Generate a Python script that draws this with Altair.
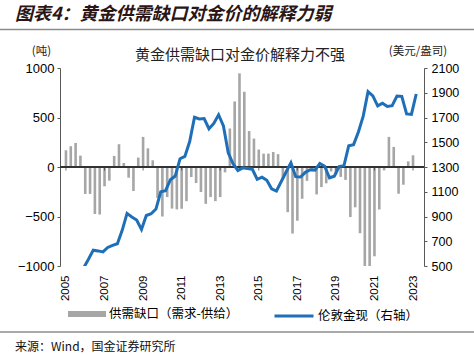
import altair as alt
import pandas as pd

# ---------------- data ----------------
# Quarterly supply-demand gap (tonnes), 2005Q1 .. 2023Q1
gap_values = [169, 210, 243, 115, -272, -272, -475, -480, -195, -138,
              112, 230, 40, -108, -243, 95, 304, 189, 68, -312,
              -500, -304, -420, -428, -422, -345, -101, -162, -253, -372,
              -304, -345, -304, -54, 389, 662, 946, 760, 363, 287,
              176, 135, 135, 152, 130, -118, -456, -672, -543, -321,
              -140, -20, -277, -203, -165, -45, -80, -100, -130, -505,
              -407, -669, -1000, -1000, -902, -429, -34, 304, 203, -270,
              -179, 57, 118]
gap_quarters = [f"{y}Q{q}" for y in range(2005, 2024) for q in range(1, 5)][:len(gap_values)]

# London gold spot, quarterly average (USD/oz), 2005Q4 .. 2023Q1
gold_values = [485,
               554, 628, 622, 614,
               650, 667, 680, 788,
               925, 896, 872, 795,
               908, 922, 960, 1100,
               1109, 1197, 1227, 1367,
               1386, 1506, 1702, 1688,
               1691, 1609, 1652, 1722,
               1632, 1415, 1326, 1272,
               1293, 1288, 1282, 1201,
               1218, 1192, 1124, 1106,
               1183, 1260, 1335, 1222,
               1219, 1257, 1278, 1275,
               1329, 1306, 1213, 1226,
               1304, 1310, 1472, 1481,
               1583, 1711, 1909, 1874,
               1794, 1816, 1789, 1795,
               1874, 1871, 1729, 1726,
               1890]
gold_quarters = gap_quarters[3:3 + len(gold_values)]

tick_years = list(range(2005, 2024, 2))
left_ticks = [-1000, -500, 0, 500, 1000]
right_ticks = list(range(500, 2101, 200))

bar_name = "供需缺口（需求-供给）"
line_name = "伦敦金现（右轴）"
main_title = "图表4：黄金供需缺口对金价的解释力弱"
inner_title = "黄金供需缺口对金价解释力不强"
left_unit = "(吨)"
right_unit = "(美元/盎司)"
source_text = "来源：Wind，国金证券研究所"


def pos(q, month_in_q):
    y, n = int(q[:4]), int(q[-1])
    return y + ((n - 1) * 3 + month_in_q) / 12.0


bar_df = pd.DataFrame({
    "t": [pos(q, 0) for q in gap_quarters],
    "gap": gap_values,
    "series": bar_name,
})
line_df = pd.DataFrame({
    "t": [pos(q, 2) for q in gold_quarters],
    "price": gold_values,
    "series": line_name,
})
tick_df = pd.DataFrame({"t": tick_years, "gap": 0})

CJK = "Noto Sans CJK SC"
NUM = "Liberation Sans"
AX = "#595959"

W, H = 364, 198
OX, OY = 60, 68  # plot origin in page pixels

xscale = alt.Scale(domain=[2004.95, 2023.31], nice=False, zero=False)
xaxis = alt.Axis(values=tick_years, format="d", labelAngle=-90, domain=False,
                 ticks=False, grid=False, labelPadding=9, labelFont=NUM,
                 labelFontSize=11.5, labelColor="#000", title=None,
                 labelFlush=False, labelOverlap=False, labelBound=False)

yleft = alt.Scale(domain=[-1000, 1000], nice=False)
yright = alt.Scale(domain=[500, 2100], nice=False, zero=False)

bars = alt.Chart(bar_df).mark_bar(size=2.6).encode(
    x=alt.X("t:Q", scale=xscale, axis=xaxis),
    y=alt.Y("gap:Q", scale=yleft,
            axis=alt.Axis(orient="left", values=left_ticks, format="d", grid=False,
                          domainColor=AX, tickColor=AX, tickSize=3,
                          labelPadding=3, labelFont=NUM, labelFontSize=13,
                          labelColor="#000", title=None)),
    color=alt.Color("series:N", scale=alt.Scale(range=["#A6A6A6"]),
                    legend=alt.Legend(orient="none", legendX=8, legendY=227,
                                      title=None, padding=0,
                                      symbolType="M-1,-0.16H1V0.16H-1Z",
                                      symbolSize=1444, symbolStrokeWidth=0,
                                      symbolOpacity=1, labelOffset=3,
                                      labelFont=CJK, labelFontSize=12.5,
                                      labelColor="#000")),
)

zero_rule = alt.Chart(tick_df).mark_rule(color="#333", strokeWidth=1).encode(
    y=alt.datum(0)
)
zero_ticks = alt.Chart(tick_df).mark_tick(orient="vertical", size=4, thickness=1,
                                          color="#333", yOffset=1.5).encode(
    x=alt.X("t:Q", scale=xscale), y=alt.Y("gap:Q", scale=yleft)
)

left_group = alt.layer(bars, zero_rule, zero_ticks)

line = alt.Chart(line_df).mark_line(strokeWidth=3, clip=True).encode(
    x=alt.X("t:Q", scale=xscale),
    y=alt.Y("price:Q", scale=yright,
            axis=alt.Axis(orient="right", values=right_ticks, format="d", grid=False,
                          domainColor=AX, tickColor=AX, tickSize=3,
                          labelPadding=4, labelFont=NUM, labelFontSize=12.5,
                          labelColor="#000", title=None)),
    color=alt.Color("series:N", scale=alt.Scale(range=["#1E6FB8"]),
                    legend=alt.Legend(orient="none", legendX=213, legendY=227,
                                      title=None, padding=0, symbolType="stroke",
                                      symbolSize=1521, symbolStrokeWidth=3,
                                      labelOffset=3, labelFont=CJK,
                                      labelFontSize=12.5, labelColor="#000")),
)


def label(txt, x, y, size, align="center", font=CJK, weight="normal",
          style="normal", color="#000"):
    return alt.Chart(pd.DataFrame({"txt": [txt]})).mark_text(
        align=align, baseline="middle", font=font, fontSize=size,
        fontWeight=weight, fontStyle=style, color=color
    ).encode(text="txt:N", x=alt.value(x - OX), y=alt.value(y - OY))


def hline(y, color="#8C8C8C", width=1.5):
    return alt.Chart(pd.DataFrame({"a": [0]})).mark_rule(
        color=color, strokeWidth=width
    ).encode(x=alt.value(0 - OX), x2=alt.value(474 - OX), y=alt.value(y - OY))


texts = [
    label(main_title, 15, 15, 18, align="left", weight="bold", style="italic",
          color="#2b1515"),
    hline(29.5),
    label(inner_title, 240, 55, 15, color="#222"),
    label(left_unit, 41.5, 52, 11.5, color="#222"),
    label(right_unit, 418, 52, 11.5, color="#222"),
    hline(332),
    label(source_text, 15, 346.5, 12, align="left", color="#111"),
]

chart = alt.layer(left_group, line, *texts).resolve_scale(
    y="independent", color="independent"
).properties(
    width=W, height=H,
    autosize=alt.AutoSizeParams(type="none"),
    padding={"left": OX, "top": OY, "right": 474 - OX - W, "bottom": 355 - OY - H},
    background="white",
).configure_view(stroke=None)

chart.save("out.html", embed_options={"renderer": "svg", "actions": False})
